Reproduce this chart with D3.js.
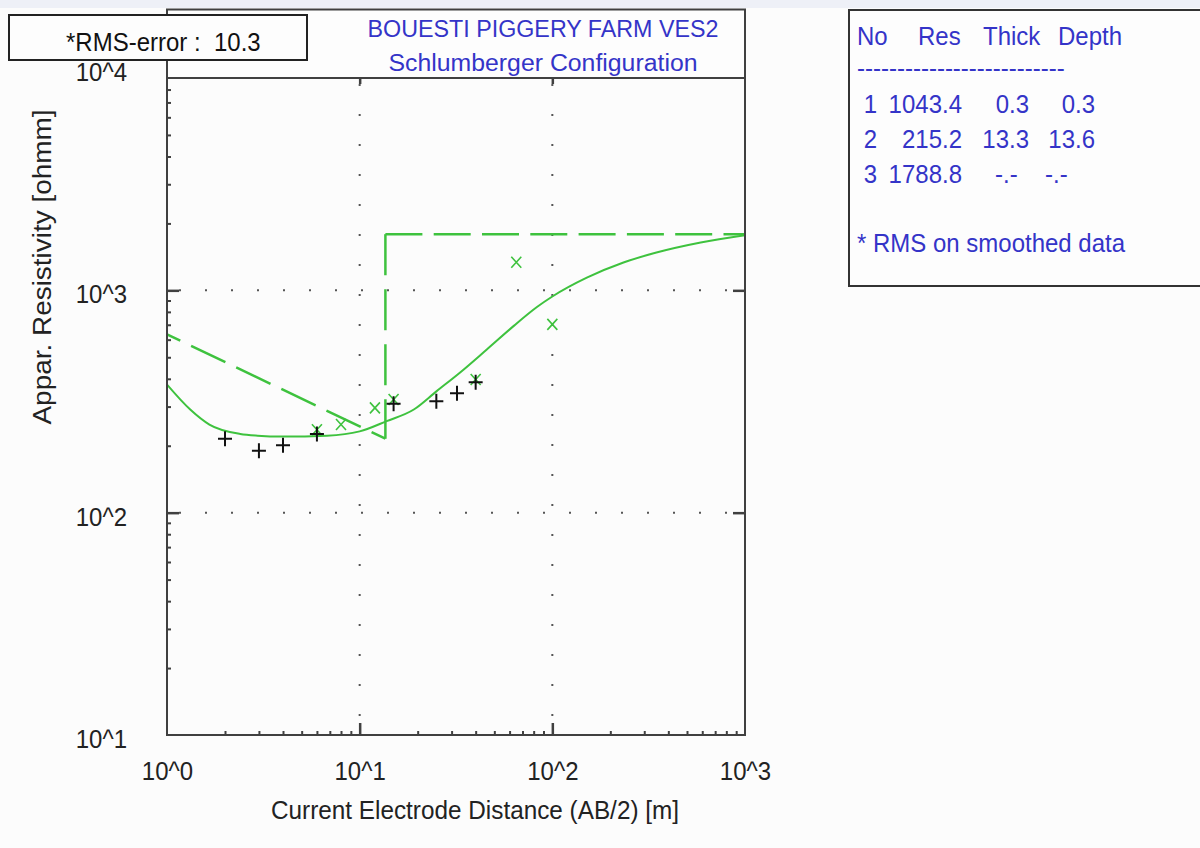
<!DOCTYPE html>
<html>
<head>
<meta charset="utf-8">
<script src="https://cdn.jsdelivr.net/npm/d3@7"></script>
<style>
body { margin: 0; background: #fcfcfc; }
text { font-family: "Liberation Sans", Arial, sans-serif; }
</style>
</head>
<body>
<script>
// observed sounding data (AB/2 [m], apparent resistivity [ohmm])
var obsAB = [2, 3, 4, 6, 15, 25, 32, 40];
var obsRho = [215, 190, 201, 226, 309, 317, 344, 386];

// smoothed data
var smoothAB = [6, 8, 12, 15, 40, 65, 100];
var smoothRho = [236, 249, 296, 323, 397, 1337, 703];

// calculated curve of the fitted model
var modelAB = [1, 1.32, 1.66, 2.40, 2.95, 3.98, 6.76, 10, 13.8, 19.1, 25.1, 33.1, 45.7, 63.1, 83.2, 100, 151, 234, 347, 589, 1000];
var modelRho = [377, 291, 249, 226, 222, 220, 222, 232, 258, 291, 352, 426, 542, 692, 841, 938, 1140, 1334, 1479, 1641, 1770];

// layered model
var layerNo = [1, 2, 3];
var layerRes = [1043.4, 215.2, 1788.8];
var layerThick = [0.3, 13.3, null];
var layerDepth = [0.3, 13.6, null];

var rmsError = "10.3";
var xTicks = [1, 10, 100, 1000];
var yTicks = [10, 100, 1000, 10000];

var title1 = "BOUESTI PIGGERY FARM VES2";
var title2 = "Schlumberger Configuration";
var xTitle = "Current Electrode Distance (AB/2) [m]";
var yTitle = "Appar. Resistivity [ohmm]";

// colours
var green = "#3ec23e";
var blue = "#3434c8";
var frameCol = "#404040";
var sy = 1.1; // text looks slightly stretched vertically in the original

var width = 1200, height = 848;
var plot = {left: 167, right: 745, top: 78, bottom: 735};

var svg = d3.select("body").append("svg")
    .attr("width", width)
    .attr("height", height);

svg.append("rect").attr("width", width).attr("height", height).attr("fill", "#fcfcfc");
svg.append("rect").attr("width", width).attr("height", 8).attr("fill", "#eef0f7");

var x = d3.scaleLog().domain([1, 1000]).range([plot.left, plot.right]);
var y = d3.scaleLog().domain([10, 10000]).range([plot.bottom, 68]);

var fmt = function(d) { return "10^" + Math.round(Math.log10(d)); };

function addText(g, px, py, str, size, fill, anchor, stretch) {
    return g.append("text")
        .attr("transform", "translate(" + px + "," + py + ") scale(1," + (stretch || sy) + ")")
        .attr("text-anchor", anchor || "start")
        .attr("fill", fill)
        .style("font-size", size + "px")
        .text(str);
}

// minor tick values (2..9 in each decade)
function minors(lo, hi, maxV) {
    var out = [];
    for (var p = lo; p < hi; p++) {
        for (var m = 2; m <= 9; m++) {
            var v = m * Math.pow(10, p);
            if (v <= maxV) out.push(v);
        }
    }
    return out;
}

svg.append("defs").append("clipPath").attr("id", "clip")
    .append("rect")
    .attr("x", plot.left).attr("y", plot.top)
    .attr("width", plot.right - plot.left).attr("height", plot.bottom - plot.top);

// dotted grid at the inner decades
var grid = svg.append("g").attr("stroke", "#555").attr("stroke-width", 2);
grid.selectAll(".vg")
    .data([10, 100])
    .enter().append("line")
    .attr("x1", function(d) { return x(d); })
    .attr("x2", function(d) { return x(d); })
    .attr("y1", plot.top).attr("y2", plot.bottom)
    .attr("stroke-dasharray", "2,28")
    .attr("stroke-dashoffset", 24);
grid.selectAll(".hg")
    .data([100, 1000])
    .enter().append("line")
    .attr("y1", function(d) { return y(d); })
    .attr("y2", function(d) { return y(d); })
    .attr("x1", plot.left).attr("x2", plot.right)
    .attr("stroke-dasharray", "2,24")
    .attr("stroke-dashoffset", 14);

var marks = svg.append("g").attr("clip-path", "url(#clip)");

// layered model drawn as dashed segments, the dash pattern restarts
// at the visible start of every segment
var corners = [
    [layerDepth[0], layerRes[0]],
    [layerDepth[1], layerRes[1]],
    [layerDepth[1], layerRes[2]],
    [x.domain()[1], layerRes[2]]
];
var segs = [
    {a: corners[0], b: corners[1], dash: "38,12"},
    {a: corners[2], b: corners[1], dash: "41,14"},
    {a: corners[2], b: corners[3], dash: "37,11.3"}
];
segs.forEach(function(s) {
    var x1 = x(s.a[0]), y1 = y(s.a[1]), x2 = x(s.b[0]), y2 = y(s.b[1]);
    var skip = 0;
    if (x1 < plot.left) {
        var f = (plot.left - x1) / (x2 - x1);
        skip = f * Math.hypot(x2 - x1, y2 - y1);
    }
    marks.append("line")
        .attr("x1", x1).attr("y1", y1)
        .attr("x2", x2).attr("y2", y2)
        .attr("stroke", green)
        .attr("stroke-width", 2.5)
        .attr("stroke-dasharray", s.dash)
        .attr("stroke-dashoffset", skip);
});

// model curve
var modelPts = modelAB.map(function(d, i) { return [d, modelRho[i]]; });
marks.append("path")
    .datum(modelPts)
    .attr("fill", "none")
    .attr("stroke", green)
    .attr("stroke-width", 2)
    .attr("d", d3.line()
        .x(function(d) { return x(d[0]); })
        .y(function(d) { return y(d[1]); })
        .curve(d3.curveMonotoneX));

// smoothed data, green crosses
marks.selectAll(".sm")
    .data(smoothAB.map(function(d, i) { return [d, smoothRho[i]]; }))
    .enter().append("path")
    .attr("transform", function(d) { return "translate(" + x(d[0]) + "," + y(d[1]) + ")"; })
    .attr("d", "M-5,-5.5L5,5.5M-5,5.5L5,-5.5")
    .attr("stroke", green)
    .attr("stroke-width", 1.6)
    .attr("fill", "none");

// observed data, black plus signs
marks.selectAll(".obs")
    .data(obsAB.map(function(d, i) { return [d, obsRho[i]]; }))
    .enter().append("path")
    .attr("transform", function(d) { return "translate(" + x(d[0]) + "," + y(d[1]) + ")"; })
    .attr("d", "M-7,0H7M0,-7.5V7.5")
    .attr("stroke", "#111")
    .attr("stroke-width", 2)
    .attr("fill", "none");

// frame
svg.append("rect")
    .attr("x", plot.left).attr("y", plot.top)
    .attr("width", plot.right - plot.left).attr("height", plot.bottom - plot.top)
    .attr("fill", "none")
    .attr("stroke", frameCol)
    .attr("stroke-width", 2);

function styleAxis(g, w) {
    g.select(".domain").remove();
    g.selectAll(".tick line").attr("stroke", frameCol).attr("stroke-width", w);
    g.selectAll("text")
        .attr("fill", "#222")
        .attr("transform", "scale(1," + sy + ")")
        .style("font-size", "24px")
        .style("font-family", "'Liberation Sans', Arial, sans-serif");
}

// left axis
svg.append("g").attr("transform", "translate(" + plot.left + ",0)")
    .call(d3.axisLeft(y).tickValues(minors(1, 4, 8000)).tickSize(-4).tickFormat(""))
    .call(styleAxis, 2);
svg.append("g").attr("transform", "translate(" + plot.left + ",0)")
    .call(d3.axisLeft(y).tickValues([100, 1000]).tickSize(-12).tickFormat(""))
    .call(styleAxis, 2.5);
svg.append("g").attr("transform", "translate(" + plot.left + ",0)")
    .call(d3.axisLeft(y).tickValues(yTicks).tickSize(0).tickPadding(40).tickFormat(fmt))
    .call(styleAxis, 0)
    .selectAll("text").attr("dy", "0.475em");

// right axis
svg.append("g").attr("transform", "translate(" + plot.right + ",0)")
    .call(d3.axisRight(y).tickValues([100, 1000]).tickSize(-12).tickFormat(""))
    .call(styleAxis, 2.5);

// bottom axis
svg.append("g").attr("transform", "translate(0," + plot.bottom + ")")
    .call(d3.axisBottom(x).tickValues(minors(0, 3, 900)).tickSize(-4).tickFormat(""))
    .call(styleAxis, 2);
svg.append("g").attr("transform", "translate(0," + plot.bottom + ")")
    .call(d3.axisBottom(x).tickValues([10, 100]).tickSize(-12).tickFormat(""))
    .call(styleAxis, 2.5);
svg.append("g").attr("transform", "translate(0," + plot.bottom + ")")
    .call(d3.axisBottom(x).tickValues(xTicks).tickSize(0).tickPadding(24).tickFormat(fmt))
    .call(styleAxis, 0);

// top axis
svg.append("g").attr("transform", "translate(0," + plot.top + ")")
    .call(d3.axisTop(x).tickValues([10, 100]).tickSize(-6).tickFormat(""))
    .call(styleAxis, 2.5);

// axis titles
addText(svg, 475, 819, xTitle, 24, "#222", "middle")
    .attr("textLength", 408).attr("lengthAdjust", "spacingAndGlyphs");
svg.append("text")
    .attr("transform", "translate(51,267) rotate(-90)")
    .attr("text-anchor", "middle")
    .attr("textLength", 315).attr("lengthAdjust", "spacingAndGlyphs")
    .style("font-size", "25px").attr("fill", "#222")
    .text(yTitle);

// header box with title
svg.append("rect")
    .attr("x", plot.left).attr("y", 9.5)
    .attr("width", plot.right - plot.left).attr("height", plot.top - 9.5)
    .attr("fill", "#fdfdfd")
    .attr("stroke", frameCol).attr("stroke-width", 2);
addText(svg, 543, 37, title1, 23, blue, "middle", 1.05)
    .attr("textLength", 351).attr("lengthAdjust", "spacingAndGlyphs");
addText(svg, 543, 71, title2, 23, blue, "middle", 1.05)
    .attr("textLength", 309).attr("lengthAdjust", "spacingAndGlyphs");

// RMS box
svg.append("rect")
    .attr("x", 9).attr("y", 15)
    .attr("width", 298).attr("height", 45)
    .attr("fill", "#fdfdfd")
    .attr("stroke", "#222").attr("stroke-width", 2);
addText(svg, 66, 51, "*RMS-error :  " + rmsError, 24, "#111")
    .attr("xml:space", "preserve")
    .style("white-space", "pre");

// layer table
var table = svg.append("g");
table.append("rect")
    .attr("x", 849).attr("y", 10)
    .attr("width", 380).attr("height", 276)
    .attr("fill", "#fdfdfd")
    .attr("stroke", "#333").attr("stroke-width", 2);

var heads = ["No", "Res", "Thick", "Depth"];
var headX = [857, 918, 983, 1058];
heads.forEach(function(h, i) {
    addText(table, headX[i], 45, h, 24, blue);
});
addText(table, 857, 77, "--------------------------", 24, blue);

var rowY = [113, 148, 183];
var colEnd = [877, 962, 1029, 1095];
var nullX = [995, 1045];
layerNo.forEach(function(n, i) {
    var cells = [String(n), layerRes[i].toFixed(1), layerThick[i], layerDepth[i]];
    cells.forEach(function(c, j) {
        if (c === null) {
            addText(table, nullX[j - 2], rowY[i], "-.-", 24, blue);
        } else {
            addText(table, colEnd[j], rowY[i], typeof c === "number" ? c.toFixed(1) : c, 24, blue, "end");
        }
    });
});
addText(table, 857, 252, "* RMS on smoothed data", 24, blue);
</script>
</body>
</html>
